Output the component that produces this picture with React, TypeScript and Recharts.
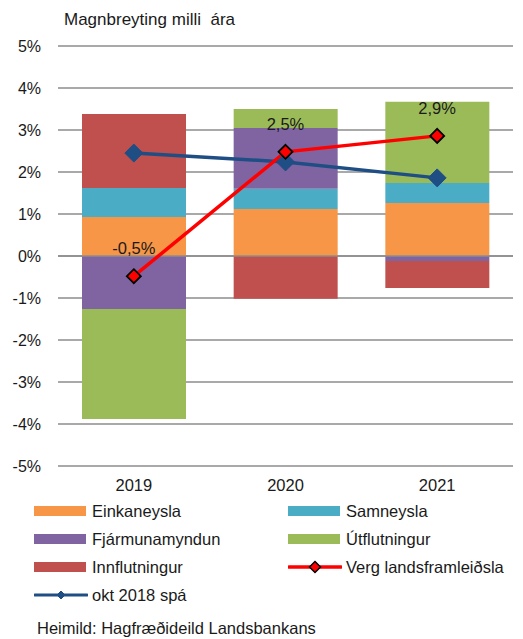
import React from "react";
import {
  ComposedChart,
  Bar,
  Line,
  XAxis,
  YAxis,
  CartesianGrid,
  LabelList,
  ReferenceLine,
} from "recharts";

const years = ["2019", "2020", "2021"];
const einkaneysla = [0.93, 1.12, 1.26];
const samneysla = [0.69, 0.48, 0.48];
const fjarmunamyndun = [-1.26, 1.45, -0.12];
const utflutningur = [-2.62, 0.45, 1.93];
const innflutningur = [1.76, -1.02, -0.64];
const vergLandsframleidsla = [-0.48, 2.48, 2.86];
const okt2018Spa = [2.45, 2.24, 1.86];
const yTicks = [-5, -4, -3, -2, -1, 0, 1, 2, 3, 4, 5];

const data = years.map((year, i) => ({
  year,
  eink: einkaneysla[i],
  sam: samneysla[i],
  fjar: fjarmunamyndun[i],
  utfl: utflutningur[i],
  innfl: innflutningur[i],
  gdp: vergLandsframleidsla[i],
  spa: okt2018Spa[i],
}));

const FONT = "'Liberation Sans', Arial, sans-serif";
const TEXT = "#1a1a1a";
const FS = 16.5;

const bars = [
  { key: "eink", name: "Einkaneysla", color: "#F79646" },
  { key: "sam", name: "Samneysla", color: "#4BACC6" },
  { key: "fjar", name: "Fjármunamyndun", color: "#8064A2" },
  { key: "utfl", name: "Útflutningur", color: "#9BBB59" },
  { key: "innfl", name: "Innflutningur", color: "#C0504D" },
];

const RED = "#FF0000";
const BLUE = "#1F4E85";

const Diamond = ({ cx, cy, r, fill, stroke, strokeWidth }: any) => {
  if (cx == null || cy == null) return null;
  return (
    <polygon
      points={`${cx},${cy - r} ${cx + r},${cy} ${cx},${cy + r} ${cx - r},${cy}`}
      fill={fill}
      stroke={stroke}
      strokeWidth={strokeWidth}
    />
  );
};

const fmtPct = (v: number) => `${v.toFixed(1).replace(".", ",")}%`;

const legendItems = [
  { kind: "bar", ...bars[0] },
  { kind: "bar", ...bars[1] },
  { kind: "bar", ...bars[2] },
  { kind: "bar", ...bars[3] },
  { kind: "bar", ...bars[4] },
  { kind: "gdp", name: "Verg landsframleiðsla", color: RED },
  { kind: "spa", name: "okt 2018 spá", color: BLUE },
];

function LegendSwatch({ kind, color }: { kind: string; color: string }) {
  if (kind === "bar") {
    return (
      <svg width={54} height={12} style={{ display: "block" }}>
        <rect x={0} y={1} width={52} height={10} fill={color} />
      </svg>
    );
  }
  return (
    <svg width={54} height={14} style={{ display: "block" }}>
      <line x1={1} y1={7} x2={53} y2={7} stroke={color} strokeWidth={kind === "gdp" ? 3.5 : 3} strokeLinecap="round" />
      {kind === "gdp" ? (
        <Diamond cx={27} cy={7} r={5.5} fill={RED} stroke="#000" strokeWidth={1.5} />
      ) : (
        <Diamond cx={27} cy={7} r={4} fill={BLUE} stroke={BLUE} strokeWidth={1} />
      )}
    </svg>
  );
}

export default function App() {
  return (
    <div
      style={{
        position: "absolute",
        left: 0,
        top: 0,
        width: 523,
        height: 639,
        background: "#fff",
        fontFamily: FONT,
        color: TEXT,
      }}
    >
      <div style={{ position: "absolute", left: 64, top: 10, fontSize: 17 }}>
        Magnbreyting milli&nbsp; ára
      </div>
      <ComposedChart
        width={523}
        height={505}
        data={data}
        stackOffset="sign"
        margin={{ top: 46, right: 10, left: 0, bottom: 0 }}
      >
        <CartesianGrid vertical={false} stroke="#8c8c8c" strokeWidth={1.3} />
        <XAxis
          dataKey="year"
          axisLine={false}
          tickLine={false}
          height={39}
          tick={{ fontSize: FS, fill: TEXT, fontFamily: FONT }}
          tickMargin={7}
        />
        <YAxis
          domain={[-5, 5]}
          ticks={yTicks}
          width={58}
          axisLine={false}
          tickLine={false}
          tickMargin={11}
          tickFormatter={(v: number) => `${v}%`}
          tick={{ fontSize: 16, fill: TEXT, fontFamily: FONT }}
        />
        <ReferenceLine y={0} stroke="#8c8c8c" strokeWidth={1.3} />
        {bars.map((b) => (
          <Bar
            key={b.key}
            dataKey={b.key}
            name={b.name}
            stackId="a"
            fill={b.color}
            barSize={104}
            isAnimationActive={false}
          />
        ))}
        <Line
          dataKey="spa"
          name="okt 2018 spá"
          stroke={BLUE}
          strokeWidth={3.5}
          dot={(p: any) => <Diamond key={p.index} cx={p.cx} cy={p.cy} r={9} fill={BLUE} stroke={BLUE} strokeWidth={1} />}
          isAnimationActive={false}
        />
        <Line
          dataKey="gdp"
          name="Verg landsframleiðsla"
          stroke={RED}
          strokeWidth={3.5}
          dot={(p: any) => <Diamond key={p.index} cx={p.cx} cy={p.cy} r={7} fill={RED} stroke="#000" strokeWidth={1.8} />}
          isAnimationActive={false}
        >
          <LabelList
            dataKey="gdp"
            position="top"
            offset={22}
            formatter={(v: any) => fmtPct(Number(v))}
            style={{ fontSize: FS, fill: TEXT, fontFamily: FONT }}
          />
        </Line>
      </ComposedChart>
      <div
        style={{
          position: "absolute",
          left: 34,
          top: 500,
          display: "grid",
          gridTemplateColumns: "254px 230px",
          rowGap: 6,
          fontSize: FS,
        }}
      >
        {legendItems.map((it) => (
          <div key={it.name} style={{ display: "flex", alignItems: "center", height: 22 }}>
            <LegendSwatch kind={it.kind} color={it.color} />
            <span style={{ marginLeft: 4 }}>{it.name}</span>
          </div>
        ))}
      </div>
      <div style={{ position: "absolute", left: 37, top: 619, fontSize: FS }}>
        Heimild: Hagfræðideild Landsbankans
      </div>
    </div>
  );
}
